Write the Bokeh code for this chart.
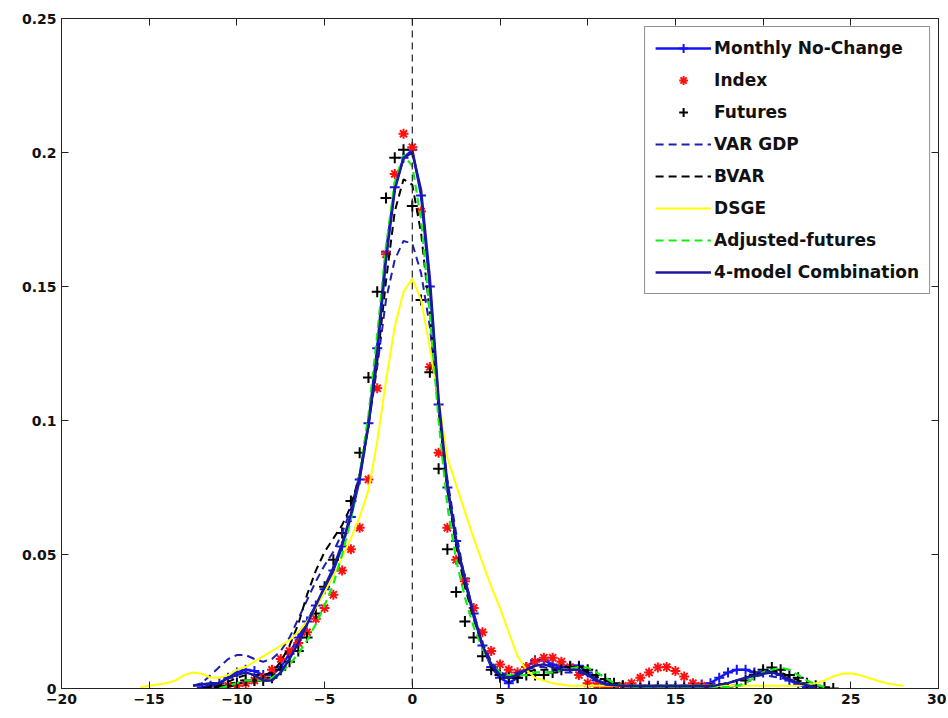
from bokeh.plotting import figure
from bokeh.models import (Span, Legend, LegendItem, LinearAxis, FixedTicker,
                          CustomJSTickFormatter, Range1d)
from bokeh.embed import file_html
from bokeh.resources import INLINE

# ---------------- data ----------------
x_ticks = [-20, -15, -10, -5, 0, 5, 10, 15, 20, 25, 30]
y_ticks = [0, 0.05, 0.1, 0.15, 0.2, 0.25]

monthly_x = [-12, -11.5, -11, -10.5, -10, -9.5, -9, -8.5, -8, -7.5, -7, -6.5, -6, -5.5, -5, -4.5,
             -4, -3.5, -3, -2.5, -2, -1.5, -1, -0.5, 0, 0.5, 1, 1.5, 2, 2.5, 3, 3.5, 4, 4.5,
             5, 5.5, 6, 6.5, 7, 7.5, 8, 8.5, 9, 9.5, 10, 10.5, 11, 11.5, 12, 12.5, 13, 13.5,
             14, 14.5, 15, 15.5, 16, 16.5, 17, 17.5, 18, 18.5, 19, 19.5, 20, 20.5, 21, 21.5,
             22, 22.5, 23]
monthly_y = [0.0005, 0.001, 0.002, 0.004, 0.006, 0.007, 0.0065, 0.005, 0.005, 0.008, 0.013, 0.019,
             0.025, 0.031, 0.037, 0.044, 0.053, 0.064, 0.078, 0.099, 0.127, 0.163, 0.187, 0.198,
             0.201, 0.184, 0.150, 0.106, 0.075, 0.055, 0.041, 0.028, 0.016, 0.008, 0.004, 0.002,
             0.004, 0.008, 0.0105, 0.0105, 0.009, 0.008, 0.0085, 0.0085, 0.006, 0.003, 0.0015,
             0.001, 0.001, 0.001, 0.001, 0.001, 0.001, 0.001, 0.001, 0.001, 0.001, 0.0015, 0.002,
             0.004, 0.006, 0.007, 0.007, 0.006, 0.006, 0.0065, 0.005, 0.003, 0.0015, 0.0005, 0.0]

index_x = [-11, -10.5, -10, -9.5, -9, -8.5, -8, -7.5, -7, -6.5, -6, -5.5, -5, -4.5, -4, -3.5, -3,
           -2.5, -2, -1.5, -1, -0.5, 0, 0.5, 1, 1.5, 2, 2.5, 3, 3.5, 4, 4.5, 5, 5.5, 6, 6.5, 7,
           7.5, 8, 8.5, 9, 9.5, 10, 10.5, 11, 11.5, 12, 12.5, 13, 13.5, 14, 14.5, 15, 15.5, 16,
           16.5, 17]
index_y = [0.0, 0.001, 0.001, 0.002, 0.003, 0.004, 0.007, 0.011, 0.014, 0.017, 0.021, 0.026, 0.030,
           0.035, 0.044, 0.052, 0.060, 0.078, 0.112, 0.162, 0.192, 0.207, 0.202, 0.178, 0.120,
           0.088, 0.060, 0.048, 0.040, 0.030, 0.021, 0.014, 0.009, 0.007, 0.006, 0.008, 0.010,
           0.0115, 0.0115, 0.010, 0.008, 0.005, 0.002, 0.001, 0.0005, 0.0005, 0.001, 0.002,
           0.004, 0.006, 0.0078, 0.008, 0.0065, 0.0045, 0.002, 0.001, 0.0005]

futures_x = [-11.5, -11, -10.5, -10, -9.5, -9, -8.5, -8, -7.5, -7, -6.5, -6, -5.5, -5, -4.5, -4,
             -3.5, -3, -2.5, -2, -1.5, -1, -0.5, 0, 0.5, 1, 1.5, 2, 2.5, 3, 3.5, 4, 4.5, 5, 5.5,
             6, 6.5, 7, 7.5, 8, 8.5, 9, 9.5, 10, 10.5, 11, 11.5, 12, 12.5, 13, 13.5, 14, 14.5,
             15, 15.5, 16, 16.5, 17, 17.5, 18, 18.5, 19, 19.5, 20, 20.5, 21, 21.5, 22, 22.5, 23,
             23.5, 24]
futures_y = [0.0, 0.0005, 0.001, 0.002, 0.003, 0.003, 0.003, 0.004, 0.007, 0.010, 0.014, 0.019,
             0.028, 0.038, 0.048, 0.058, 0.070, 0.088, 0.116, 0.148, 0.183, 0.198, 0.201, 0.180,
             0.145, 0.118, 0.082, 0.052, 0.036, 0.025, 0.019, 0.012, 0.007, 0.005, 0.004, 0.004,
             0.005, 0.005, 0.005, 0.006, 0.007, 0.008, 0.008, 0.007, 0.005, 0.0035, 0.002, 0.001,
             0.0, 0.0, 0.0, 0.0, 0.0, 0.0, 0.0, 0.0, 0.0, 0.0, 0.0, 0.0, 0.001, 0.003, 0.005,
             0.007, 0.0078, 0.007, 0.005, 0.004, 0.002, 0.001, 0.0005, 0.0]

vargdp_x = [-12.5, -12, -11.5, -11, -10.5, -10, -9.5, -9, -8.5, -8, -7.5, -7, -6.5, -6, -5.5, -5,
            -4.5, -4, -3.5, -3, -2.5, -2, -1.5, -1, -0.5, 0, 0.5, 1, 1.5, 2, 2.5, 3, 3.5, 4,
            4.5, 5, 5.5, 6, 6.5, 7, 7.5, 8, 8.5, 9, 9.5, 10, 11, 12, 13, 14, 15, 16, 17, 18,
            19, 20, 21, 22, 23]
vargdp_y = [0.001, 0.002, 0.005, 0.008, 0.011, 0.0125, 0.0125, 0.011, 0.010, 0.011, 0.014, 0.019,
            0.026, 0.033, 0.040, 0.046, 0.051, 0.058, 0.067, 0.080, 0.098, 0.120, 0.145, 0.160,
            0.167, 0.166, 0.155, 0.135, 0.105, 0.078, 0.058, 0.041, 0.028, 0.017, 0.010, 0.006,
            0.005, 0.006, 0.007, 0.008, 0.008, 0.007, 0.006, 0.006, 0.006, 0.005, 0.002, 0.001,
            0.001, 0.001, 0.001, 0.001, 0.001, 0.002, 0.004, 0.005, 0.004, 0.002, 0.0]

bvar_x = [-12, -11, -10, -9.5, -9, -8.5, -8, -7.5, -7, -6.5, -6, -5.5, -5, -4.5, -4, -3.5, -3,
          -2.5, -2, -1.5, -1, -0.5, 0, 0.5, 1, 1.5, 2, 2.5, 3, 3.5, 4, 4.5, 5, 5.5, 6, 6.5, 7,
          8, 9, 9.5, 10, 11, 12, 13, 14, 15, 16, 17, 18, 19, 20, 20.5, 21, 22, 23, 23.5]
bvar_y = [0.0, 0.001, 0.004, 0.005, 0.005, 0.005, 0.006, 0.010, 0.016, 0.024, 0.035, 0.044, 0.051,
          0.056, 0.061, 0.068, 0.080, 0.098, 0.122, 0.152, 0.178, 0.190, 0.188, 0.170, 0.140,
          0.104, 0.074, 0.053, 0.038, 0.026, 0.016, 0.009, 0.005, 0.004, 0.005, 0.006, 0.007,
          0.007, 0.007, 0.007, 0.006, 0.003, 0.001, 0.001, 0.001, 0.001, 0.001, 0.001, 0.002,
          0.004, 0.006, 0.0065, 0.006, 0.003, 0.001, 0.0]

dsge_x = [-15.5, -15, -14.5, -14, -13.5, -13, -12.5, -12, -11.5, -11, -10.5, -10, -9.5, -9, -8.5,
          -8, -7.5, -7, -6.5, -6, -5.5, -5, -4.5, -4, -3.5, -3, -2.5, -2, -1.5, -1, -0.5, 0,
          0.5, 1, 1.5, 2, 2.5, 3, 3.5, 4, 4.5, 5, 5.5, 6, 6.5, 7, 7.5, 8, 9, 10, 12, 14, 16,
          18, 20, 21, 22, 23, 23.5, 24, 24.5, 25, 25.5, 26, 26.5, 27, 28]
dsge_y = [0.0005, 0.001, 0.0015, 0.002, 0.003, 0.005, 0.006, 0.0055, 0.004, 0.004, 0.005, 0.007,
          0.008, 0.010, 0.012, 0.014, 0.016, 0.018, 0.021, 0.025, 0.030, 0.036, 0.042, 0.049,
          0.056, 0.064, 0.074, 0.092, 0.115, 0.135, 0.148, 0.153, 0.145, 0.127, 0.108, 0.086,
          0.076, 0.066, 0.056, 0.047, 0.038, 0.030, 0.021, 0.012, 0.007, 0.004, 0.003, 0.002,
          0.001, 0.001, 0.001, 0.001, 0.001, 0.001, 0.001, 0.001, 0.001, 0.002, 0.003, 0.0045,
          0.0055, 0.0057, 0.005, 0.004, 0.003, 0.002, 0.001]

adjfut_x = [-11, -10.5, -10, -9.5, -9, -8.5, -8, -7.5, -7, -6.5, -6, -5.5, -5, -4.5, -4, -3.5, -3,
            -2.5, -2, -1.5, -1, -0.5, 0, 0.5, 1, 1.5, 2, 2.5, 3, 3.5, 4, 4.5, 5, 5.5, 6, 6.5, 7,
            7.5, 8, 8.5, 9, 9.5, 10, 10.5, 11, 11.5, 12, 13, 14, 15, 16, 17, 18, 18.5, 19,
            19.5, 20, 20.5, 21, 21.5, 22, 22.5, 23, 23.5]
adjfut_y = [0.0, 0.001, 0.002, 0.003, 0.003, 0.003, 0.004, 0.006, 0.009, 0.013, 0.018, 0.024,
            0.031, 0.039, 0.050, 0.063, 0.080, 0.102, 0.132, 0.165, 0.189, 0.199, 0.195, 0.175,
            0.140, 0.100, 0.068, 0.048, 0.034, 0.023, 0.015, 0.009, 0.006, 0.005, 0.005, 0.005,
            0.006, 0.006, 0.006, 0.007, 0.0075, 0.008, 0.0078, 0.006, 0.004, 0.002, 0.001,
            0.0005, 0.0005, 0.0005, 0.0005, 0.0005, 0.0005, 0.001, 0.002, 0.004, 0.006, 0.007,
            0.0078, 0.007, 0.005, 0.003, 0.0015, 0.0005]

combo_x = [-12.5, -12, -11.5, -11, -10.5, -10, -9.5, -9, -8.5, -8, -7.5, -7, -6.5, -6, -5.5, -5,
           -4.5, -4, -3.5, -3, -2.5, -2, -1.5, -1, -0.5, 0, 0.5, 1, 1.5, 2, 2.5, 3, 3.5, 4, 4.5,
           5, 5.5, 6, 6.5, 7, 7.5, 8, 8.5, 9, 9.5, 10, 10.5, 11, 12, 13, 14, 15, 16, 17, 18, 19,
           20, 20.5, 21, 22, 23]
combo_y = [0.001, 0.0015, 0.002, 0.002, 0.004, 0.005, 0.006, 0.005, 0.003, 0.003, 0.006, 0.011,
           0.017, 0.024, 0.031, 0.038, 0.045, 0.054, 0.065, 0.079, 0.098, 0.125, 0.160, 0.186,
           0.198, 0.200, 0.186, 0.153, 0.108, 0.076, 0.055, 0.040, 0.027, 0.016, 0.009, 0.005,
           0.004, 0.005, 0.007, 0.0085, 0.009, 0.008, 0.007, 0.007, 0.007, 0.005, 0.003, 0.0015,
           0.001, 0.0008, 0.0008, 0.0008, 0.0008, 0.0008, 0.002, 0.004, 0.0055, 0.006, 0.005,
           0.002, 0.0005]

labels = ["Monthly No-Change", "Index", "Futures", "VAR GDP", "BVAR", "DSGE",
          "Adjusted-futures", "4-model Combination"]

# ---------------- figure ----------------
FONT = "DejaVu Sans"
p = figure(width=946, height=714, output_backend="svg", toolbar_location=None,
           x_range=Range1d(-20, 30), y_range=Range1d(0, 0.25),
           min_border_left=61, min_border_right=8, min_border_top=18, min_border_bottom=26)
p.background_fill_color = "white"
p.border_fill_color = "white"
p.outline_line_color = "#222222"
p.outline_line_width = 1
p.xgrid.visible = False
p.ygrid.visible = False

def style_axis(ax, show_labels=True):
    ax.axis_line_color = "#222222"
    ax.major_tick_in = 7
    ax.major_tick_out = 0
    ax.minor_tick_in = 0
    ax.minor_tick_out = 0
    ax.major_tick_line_color = "#222222"
    ax.major_label_text_font = FONT
    ax.major_label_text_font_style = "bold"
    ax.major_label_text_color = "#111111"
    ax.major_label_text_font_size = "14px"
    ax.major_label_standoff = 5 if show_labels else 0

p.xaxis.ticker = FixedTicker(ticks=x_ticks)
p.yaxis.ticker = FixedTicker(ticks=y_ticks)
p.yaxis.formatter = CustomJSTickFormatter(
    code="var s = tick.toFixed(2); s = s.replace(/0+$/, ''); return s.replace(/\\.$/, '');")
style_axis(p.xaxis[0])
style_axis(p.yaxis[0])

# mirrored tick marks on the top and right edges (no labels, as in the reference)
blank = CustomJSTickFormatter(code="return '';")
ax_top = LinearAxis(ticker=FixedTicker(ticks=x_ticks), formatter=blank)
ax_right = LinearAxis(ticker=FixedTicker(ticks=y_ticks), formatter=blank)
style_axis(ax_top, False)
style_axis(ax_right, False)
p.add_layout(ax_top, "above")
p.add_layout(ax_right, "right")

p.add_layout(Span(location=0, dimension="height", line_color="#222222",
                  line_width=1.2, line_dash="7 5"))

# ---------------- series ----------------
BLUE = "#1515f0"
r_m_line = p.line(monthly_x, monthly_y, line_color=BLUE, line_width=2.5)
r_m_pts = p.scatter(monthly_x, monthly_y, marker="cross", size=10, line_color=BLUE, line_width=2)

r_idx = p.scatter(index_x, index_y, marker="asterisk", size=10, line_color="#ff1010", line_width=2)

r_fut = p.scatter(futures_x, futures_y, marker="cross", size=11, line_color="black", line_width=2)

r_var = p.line(vargdp_x, vargdp_y, line_color="#1f1fb4", line_width=2, line_dash="8 5")
r_bvar = p.line(bvar_x, bvar_y, line_color="black", line_width=2, line_dash="8 5")
r_dsge = p.line(dsge_x, dsge_y, line_color="#ffff00", line_width=2)
r_adj = p.line(adjfut_x, adjfut_y, line_color="#11ee11", line_width=2.2, line_dash="8 5")
r_combo = p.line(combo_x, combo_y, line_color="#1a1aa0", line_width=2.5)

items = [
    LegendItem(label=labels[0], renderers=[r_m_line, r_m_pts]),
    LegendItem(label=labels[1], renderers=[r_idx]),
    LegendItem(label=labels[2], renderers=[r_fut]),
    LegendItem(label=labels[3], renderers=[r_var]),
    LegendItem(label=labels[4], renderers=[r_bvar]),
    LegendItem(label=labels[5], renderers=[r_dsge]),
    LegendItem(label=labels[6], renderers=[r_adj]),
    LegendItem(label=labels[7], renderers=[r_combo]),
]
legend = Legend(items=items, location="top_right")
legend.label_text_font = FONT
legend.label_text_font_style = "bold"
legend.label_text_font_size = "17px"
legend.label_text_color = "#111111"
legend.glyph_width = 56
legend.glyph_height = 22
legend.label_height = 22
legend.label_standoff = 3
legend.spacing = 10
legend.padding = 10
legend.margin = 8
legend.border_line_color = "#222222"
legend.border_line_width = 1
legend.background_fill_color = "white"
legend.background_fill_alpha = 1.0
p.add_layout(legend)

open("out.html", "w").write(file_html(p, INLINE))
